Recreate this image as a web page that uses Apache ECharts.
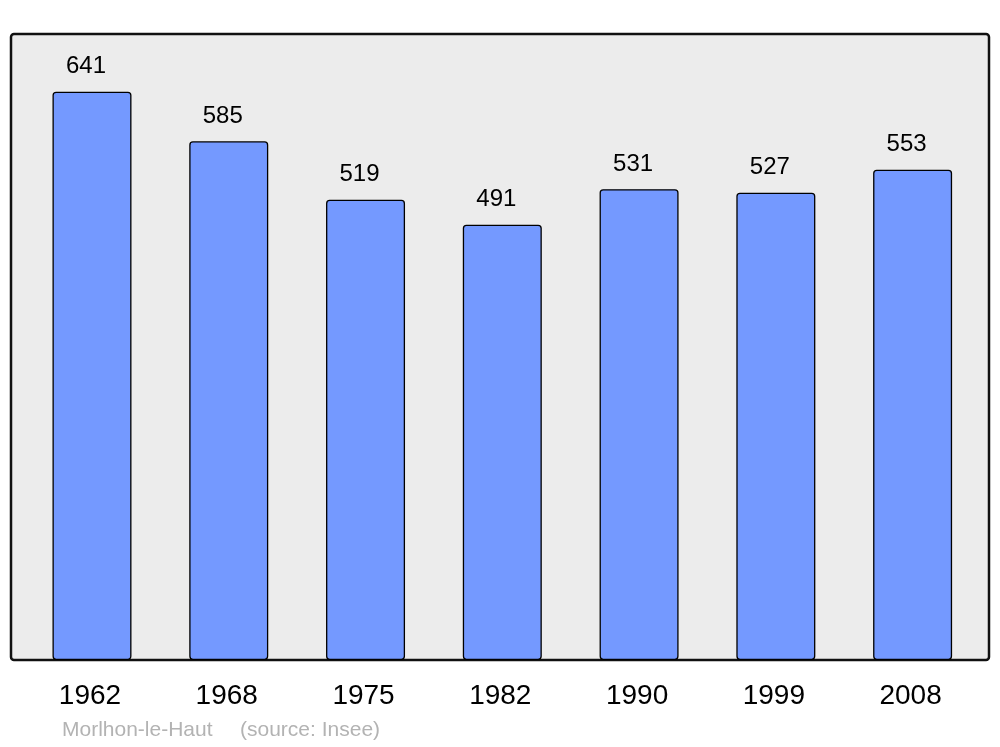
<!DOCTYPE html>
<html><head><meta charset="utf-8">
<script src="https://cdn.jsdelivr.net/npm/echarts@6/dist/echarts.min.js"></script>
<style>html,body{margin:0;padding:0;background:#fff}#c{width:1000px;height:747px}</style>
</head><body><div id="c"></div>
<script>
const years = ['1962','1968','1975','1982','1990','1999','2008'];
const population = [641,585,519,491,531,527,553];
const placeName = 'Morlhon-le-Haut';
const sourceName = '(source: Insee)';

const chart = echarts.init(document.getElementById('c'), null, {renderer:'canvas'});
chart.setOption({
  animation:false,
  backgroundColor:'#ffffff',
  textStyle:{fontFamily:'Liberation Sans'},
  graphic:[
    {type:'rect', z:-10, shape:{x:11,y:34,width:978,height:626,r:3},
     style:{fill:'#ececec', stroke:'#111', lineWidth:2.5}},
    {type:'text', left:62, top:720,
     style:{text:placeName, fill:'#b3b3b3', font:'21px "Liberation Sans"'}},
    {type:'text', left:240, top:720,
     style:{text:sourceName, fill:'#b3b3b3', font:'21px "Liberation Sans"'}}
  ],
  grid:{left:23.6, right:19, top:34, bottom:87},
  xAxis:{type:'category', data:years,
    axisLine:{show:false}, axisTick:{show:false},
    axisLabel:{color:'#000', fontSize:28, margin:22, padding:[0,4,0,0], fontFamily:'Liberation Sans'}},
  yAxis:{type:'value', min:0, max:706, show:false, splitLine:{show:false}},
  series:[{type:'bar', data:population, barWidth:79,
    itemStyle:{color:'#7499ff', borderColor:'#000', borderWidth:1.3, borderRadius:3},
    label:{show:true, position:'top', distance:13, offset:[-6,0], color:'#000', fontSize:24, fontFamily:'Liberation Sans'}}]
});
</script></body></html>
